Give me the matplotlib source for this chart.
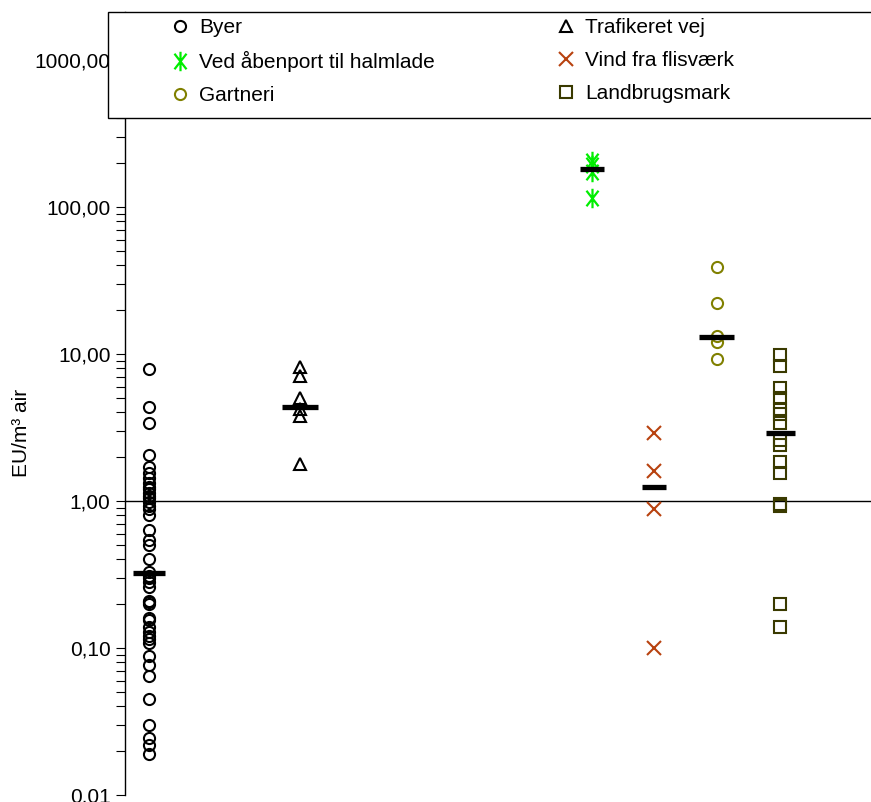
import matplotlib
matplotlib.use("Agg")
import matplotlib.pyplot as plt
import matplotlib.patches as mpatches
from matplotlib.path import Path
from matplotlib.ticker import FixedLocator, FuncFormatter, LogLocator, NullFormatter
import numpy as np

plt.rcParams['font.family'] = ['Liberation Sans', 'DejaVu Sans']

# data (EU/m3 air)
groups = ['Byer', 'Trafikeret vej', 'Ved åbenport til halmlade',
          'Vind fra flisværk', 'Gartneri', 'Landbrugsmark']
xpos = [0.39, 2.82, 7.51, 8.51, 9.52, 10.54]

byer = [7.9, 4.35, 3.4, 2.05, 1.7, 1.55, 1.43, 1.32, 1.25, 1.2, 1.13, 1.08,
        1.04, 0.98, 0.93, 0.88, 0.80, 0.63, 0.54, 0.50, 0.40, 0.33, 0.31,
        0.30, 0.28, 0.26, 0.21, 0.205, 0.20, 0.16, 0.155, 0.14, 0.128, 0.12,
        0.115, 0.108, 0.088, 0.077, 0.064, 0.045, 0.030, 0.0245, 0.0218, 0.019]
trafik = [8.1, 7.1, 5.0, 4.2, 3.8, 1.78]
halmlade = [205, 193, 172, 116]
flisvaerk = [2.9, 1.6, 0.88, 0.10]
gartneri = [39, 22.3, 13.3, 12.1, 9.3]
landbrug = [9.8, 8.3, 5.9, 5.0, 4.2, 3.9, 3.4, 2.6, 2.4, 1.85, 1.55, 0.95,
            0.92, 0.20, 0.14]
medians = [0.325, 4.35, 181, 1.24, 13.0, 2.9]

series = [byer, trafik, halmlade, flisvaerk, gartneri, landbrug]

# asterisk like the spreadsheet "star" marker
star = Path([(0, -1), (0, 1), (-0.62, -0.8), (0.62, 0.8), (-0.62, 0.8), (0.62, -0.8)],
            [Path.MOVETO, Path.LINETO, Path.MOVETO, Path.LINETO, Path.MOVETO, Path.LINETO])

styles = [
    dict(marker='o', ms=8, mec='black', mfc='none', mew=1.5),
    dict(marker='^', ms=8, mec='black', mfc='none', mew=1.5),
    dict(marker=star, ms=14, mec='#00ee00', mfc='none', mew=1.6),
    dict(marker='x', ms=10, mec='#b8420f', mfc='none', mew=1.5),
    dict(marker='o', ms=8, mec='#808000', mfc='none', mew=1.5),
    dict(marker='s', ms=8, mec='#3a3a00', mfc='none', mew=1.5),
]
bar_half = [0.26, 0.29, 0.19, 0.19, 0.28, 0.23]

fig = plt.figure(figsize=(8.71, 8.02), dpi=100)
ax = fig.add_axes([125 / 871, 7 / 802, 746 / 871, 783 / 802])
ax.set_yscale('log')
ax.set_ylim(0.01, 0.01 * 10 ** (783 / 147))
ax.set_xlim(0, 12)

handles = []
for x, vals, st, lab in zip(xpos, series, styles, groups):
    h, = ax.plot([x] * len(vals), vals, linestyle='none', label=lab, zorder=3, **st)
    handles.append(h)

for x, m, hw in zip(xpos, medians, bar_half):
    ax.hlines(m, x - hw, x + hw, colors='black', linewidth=3.8, zorder=4)

ax.axhline(1.0, color='black', linewidth=1.0, zorder=2)

for s in ['top', 'right', 'bottom']:
    ax.spines[s].set_visible(False)
ax.spines['left'].set_linewidth(1.0)
ax.set_xticks([])
ax.yaxis.set_major_locator(FixedLocator([0.01, 0.1, 1, 10, 100, 1000]))
ax.yaxis.set_major_formatter(FuncFormatter(lambda v, p: ('%.2f' % v).replace('.', ',')))
ax.yaxis.set_minor_locator(LogLocator(base=10, subs=np.arange(2, 10)))
ax.yaxis.set_minor_formatter(NullFormatter())
ax.tick_params(axis='y', which='major', length=6.5, width=0.8, labelsize=15, pad=4)
ax.tick_params(axis='y', which='minor', length=6.5, width=0.8)

fig.text(22 / 871, 1 - 433 / 802, 'EU/m³ air', rotation=90, fontsize=15,
         ha='center', va='center')

# legend box over the top of the plot
box = mpatches.Rectangle((108 / 871, 1 - 118 / 802), 0.95, 106 / 802,
                         transform=fig.transFigure, facecolor='white',
                         edgecolor='black', linewidth=1.0, zorder=3)
fig.patches.append(box)
order = [0, 2, 4, 1, 3, 5]
leg = fig.legend([handles[i] for i in order], [groups[i] for i in order],
                 ncol=2, loc='upper left', bbox_to_anchor=(170 / 871, 1 - 18 / 802),
                 frameon=False, fontsize=15, handlelength=1.0, handletextpad=0.4,
                 columnspacing=5.8, labelspacing=0.68, borderpad=0, borderaxespad=0)
leg.set_zorder(4)

fig.savefig('out.png', dpi=100)
